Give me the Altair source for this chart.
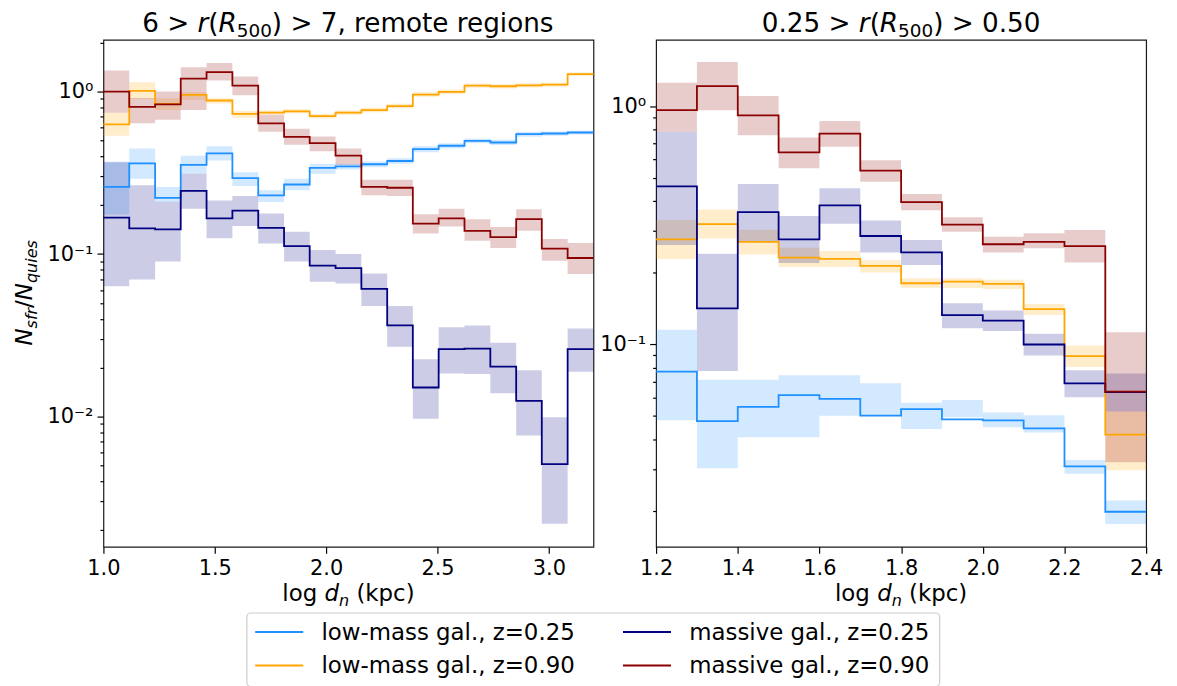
import altair as alt
import pandas as pd

FONT = "DejaVu Sans"
SERIES = ["low-mass gal., z=0.25", "massive gal., z=0.25",
          "low-mass gal., z=0.90", "massive gal., z=0.90"]
COLORS = ["#1e90ff", "#000080", "#ffa500", "#8b0000"]
DRAW_ORDER = [0, 2, 1, 3]

# ---------------- left panel: 6 > r(R500) > 7 ----------------
L_edges = [1.0, 1.116, 1.232, 1.347, 1.463, 1.579, 1.695, 1.811, 1.926, 2.042,
           2.158, 2.274, 2.389, 2.505, 2.621, 2.737, 2.853, 2.968, 3.084, 3.2]
L_low25 = [0.259, 0.362, 0.222, 0.354, 0.417, 0.293, 0.230, 0.268, 0.339, 0.347,
           0.357, 0.374, 0.443, 0.464, 0.498, 0.486, 0.547, 0.552, 0.560]
L_low25_hi = [0.37, 0.447, 0.259, 0.403, 0.46, 0.319, 0.247, 0.291, 0.359, 0.359,
              0.371, 0.389, 0.46, 0.48, 0.514, 0.505, 0.565, 0.568, 0.575]
L_low25_lo = [0.175, 0.291, 0.209, 0.312, 0.376, 0.262, 0.209, 0.247, 0.312, 0.331,
              0.342, 0.359, 0.423, 0.447, 0.48, 0.469, 0.527, 0.534, 0.544]
L_low90 = [0.629, 1.01, 0.841, 0.954, 0.881, 0.728, 0.741, 0.755, 0.707, 0.741,
           0.769, 0.814, 0.959, 0.995, 1.088, 1.078, 1.093, 1.103, 1.28]
L_low90_hi = [0.74, 1.14, 0.91, 0.99, 0.91, 0.76, 0.765, 0.78, 0.73, 0.765,
              0.795, 0.84, 0.99, 1.025, 1.12, 1.11, 1.125, 1.135, 1.31]
L_low90_lo = [0.534, 0.90, 0.77, 0.89, 0.845, 0.69, 0.72, 0.735, 0.685, 0.72,
              0.745, 0.79, 0.93, 0.965, 1.055, 1.045, 1.06, 1.07, 1.245]
L_mass25 = [0.1675, 0.144, 0.142, 0.245, 0.166, 0.185, 0.145, 0.112, 0.085, 0.082,
            0.061, 0.0364, 0.0151, 0.026, 0.0262, 0.0203, 0.0125, 0.0051, 0.026]
L_mass25_hi = [0.367, 0.265, 0.21, 0.312, 0.214, 0.228, 0.178, 0.137, 0.106, 0.1,
               0.076, 0.048, 0.0225, 0.0354, 0.0364, 0.0285, 0.0193, 0.0099, 0.0348]
L_mass25_lo = [0.0635, 0.0697, 0.090, 0.19, 0.125, 0.149, 0.116, 0.090, 0.0675, 0.066,
               0.048, 0.0269, 0.0097, 0.0184, 0.0183, 0.0139, 0.00766, 0.00219, 0.0189]
L_mass90 = [1.0, 0.806, 0.833, 1.2, 1.318, 1.088, 0.638, 0.527, 0.482, 0.403,
            0.259, 0.256, 0.154, 0.166, 0.139, 0.127, 0.164, 0.108, 0.0946]
L_mass90_hi = [1.35, 0.914, 1.0, 1.41, 1.50, 1.24, 0.72, 0.59, 0.53, 0.447,
               0.287, 0.287, 0.176, 0.19, 0.164, 0.147, 0.189, 0.124, 0.117]
L_mass90_lo = [0.741, 0.638, 0.67, 0.77, 1.17, 0.95, 0.565, 0.47, 0.43, 0.354,
               0.23, 0.228, 0.134, 0.148, 0.121, 0.109, 0.139, 0.091, 0.0755]

# ---------------- right panel: 0.25 > r(R500) > 0.50 ----------------
R_edges = [1.2, 1.3, 1.4, 1.5, 1.6, 1.7, 1.8, 1.9, 2.0, 2.1, 2.2, 2.3, 2.4]
R_low25 = [0.0769, 0.0476, 0.0547, 0.0612, 0.0591, 0.0502, 0.0535, 0.0484, 0.048, 0.0444, 0.0307, 0.0198]
R_low25_hi = [0.1155, 0.0711, 0.0711, 0.0742, 0.0742, 0.0687, 0.0569, 0.0585, 0.0518, 0.0504, 0.0327, 0.0221]
R_low25_lo = [0.048, 0.0302, 0.0407, 0.0407, 0.0502, 0.0503, 0.0441, 0.0494, 0.0449, 0.0427, 0.0286, 0.0176]
R_low90 = [0.277, 0.321, 0.270, 0.232, 0.229, 0.214, 0.181, 0.184, 0.180, 0.141, 0.0894, 0.0418]
R_low90_hi = [0.333, 0.37, 0.304, 0.255, 0.247, 0.226, 0.19, 0.19, 0.187, 0.148, 0.099, 0.0523]
R_low90_lo = [0.229, 0.279, 0.239, 0.212, 0.212, 0.201, 0.173, 0.173, 0.171, 0.133, 0.0804, 0.0296]
R_mass25 = [0.462, 0.142, 0.36, 0.277, 0.385, 0.286, 0.244, 0.133, 0.126, 0.1, 0.0687, 0.063]
R_mass25_hi = [0.784, 0.241, 0.473, 0.347, 0.454, 0.332, 0.275, 0.149, 0.139, 0.111, 0.078, 0.0756]
R_mass25_lo = [0.262, 0.0774, 0.27, 0.22, 0.322, 0.244, 0.216, 0.117, 0.114, 0.090, 0.060, 0.0523]
R_mass90 = [0.968, 1.22, 0.92, 0.643, 0.771, 0.539, 0.397, 0.319, 0.264, 0.270, 0.259, 0.0634]
R_mass90_hi = [1.26, 1.54, 1.108, 0.742, 0.871, 0.595, 0.429, 0.343, 0.284, 0.294, 0.303, 0.1126]
R_mass90_lo = [0.784, 0.967, 0.759, 0.551, 0.678, 0.484, 0.367, 0.298, 0.244, 0.254, 0.221, 0.032]

# axis ticks
L_xticks = [1.0, 1.5, 2.0, 2.5, 3.0]
R_xticks = [1.2, 1.4, 1.6, 1.8, 2.0, 2.2, 2.4]
L_ydomain = [0.00158, 2.08]
R_ydomain = [0.0141, 1.91]
Y_major = [0.01, 0.1, 1.0]
L_yticks = [0.002, 0.003, 0.004, 0.005, 0.006, 0.007, 0.008, 0.009, 0.01,
            0.02, 0.03, 0.04, 0.05, 0.06, 0.07, 0.08, 0.09, 0.1,
            0.2, 0.3, 0.4, 0.5, 0.6, 0.7, 0.8, 0.9, 1.0, 2.0]
R_yticks = [0.02, 0.03, 0.04, 0.05, 0.06, 0.07, 0.08, 0.09, 0.1,
            0.2, 0.3, 0.4, 0.5, 0.6, 0.7, 0.8, 0.9, 1.0]

L_title = [("6 > ", False, False), ("r", True, False), ("(", False, False),
           ("R", True, False), ("500", False, True), (") > 7, remote regions", False, False)]
R_title = [("0.25 > ", False, False), ("r", True, False), ("(", False, False),
           ("R", True, False), ("500", False, True), (") > 0.50", False, False)]
X_title = [("log ", False, False), ("d", True, False), ("n", True, True), (" (kpc)", False, False)]
Y_title = [("N", True, False), ("sfr", True, True), ("/", False, False), ("N", True, False),
           ("quies", True, True)]

W = 493
H = 510

ADV = {' ': .318, '(': .390, ')': .390, '>': .838, ',': .318, '.': .318, '/': .337,
       'a': .613, 'c': .550, 'd': .635, 'e': .615, 'f': .352, 'g': .635, 'i': .278,
       'k': .579, 'l': .278, 'm': .974, 'n': .634, 'o': .612, 'p': .635, 'q': .635,
       'r': .411, 's': .521, 't': .392, 'u': .634, 'v': .592, 'z': .525, 'N': .748,
       'R': .695}


def adv(s):
    return sum(ADV.get(ch, 0.636) for ch in s)


ONE = pd.DataFrame({"k": [0]})


def rich_text(pieces, size, anchor_x, anchor_y, angle=0, subshift=0.22):
    widths = [adv(t) * (size * 0.7 if sub else size) for t, _, sub in pieces]
    total = sum(widths)
    layers = []
    pos = -total / 2
    for (t, ital, sub), w in zip(pieces, widths):
        fs = size * 0.7 if sub else size
        shift = size * subshift if sub else 0
        lead = (len(t) - len(t.lstrip(" "))) * ADV[" "] * fs
        if angle == 0:
            px, py = anchor_x + pos + lead, anchor_y + shift
        else:
            px, py = anchor_x + shift, anchor_y - pos - lead
        layers.append(
            alt.Chart(ONE).mark_text(
                text=t.strip(" "), font=FONT, fontSize=fs,
                fontStyle="italic" if ital else "normal",
                align="left", baseline="alphabetic", angle=angle, color="black"
            ).encode(x=alt.value(px), y=alt.value(py))
        )
        pos += w
    return layers


def legend_layers():
    # legend box below the panels (matplotlib-style: 2 columns, framed)
    box_x, box_y, box_w, box_h = 144.3, 576.6, 697, 74
    col_x = [152.7, 522.7]
    row_y = [595.6, 629.3]
    sym_len, gap = 48.3, 18.3
    layers = [alt.Chart(ONE).mark_rect(
        fill="white", fillOpacity=0.8, stroke="#cccccc", strokeWidth=1.2, cornerRadius=4
    ).encode(x=alt.value(box_x), x2=alt.value(box_x + box_w),
             y=alt.value(box_y), y2=alt.value(box_y + box_h))]
    for k, (name, color) in enumerate(zip(SERIES, COLORS)):
        cx = col_x[k % 2]
        ry = row_y[k // 2]
        layers.append(alt.Chart(ONE).mark_rule(color=color, strokeWidth=2).encode(
            x=alt.value(cx), x2=alt.value(cx + sym_len), y=alt.value(ry)))
        layers.append(alt.Chart(ONE).mark_text(
            text=name, font=FONT, fontSize=23, align="left", baseline="middle",
            color="black").encode(x=alt.value(cx + sym_len + gap), y=alt.value(ry + 1)))
    return layers


def table(edges, series_list):
    rows = []
    for idx in DRAW_ORDER:
        vals, lo, hi = series_list[idx]
        n = len(vals)
        for i in range(n + 1):
            j = min(i, n - 1)
            rows.append({"series": SERIES[idx], "band": SERIES[idx],
                         "x": edges[i], "y": vals[j], "lo": lo[j], "hi": hi[j]})
    return pd.DataFrame(rows)


def panel(df, xdom, xticks, ydom, yticks, title_pieces, first):
    xenc = alt.X("x:Q", scale=alt.Scale(domain=xdom, nice=False, zero=False),
                 axis=alt.Axis(values=xticks, format=".1f", title=None, labelFlush=False,
                               tickSize=6.5, labelPadding=4, labelFontSize=21,
                               labelFont=FONT))
    major_test = "indexof(%s, datum.value) >= 0" % str(Y_major)
    label_expr = ("datum.value == 1 ? '10\u2070' : datum.value == 0.1 ? '10\u207b\u00b9' : "
                  "datum.value == 0.01 ? '10\u207b\u00b2' : ''")
    yaxis = alt.Axis(values=yticks, labelExpr=label_expr, title=None, labelOverlap=False,
                     tickSize={"condition": {"test": major_test, "value": 6.5}, "value": 3.5},
                     labelPadding=4, labelFontSize=21, labelFont=FONT)
    yscale = alt.Scale(type="log", domain=ydom, nice=False, zero=False)
    band = alt.Chart(df).mark_area(interpolate="step-after", fillOpacity=0.2).encode(
        x=xenc,
        y=alt.Y("lo:Q", scale=yscale, axis=yaxis),
        y2="hi:Q",
        fill=alt.Fill("band:N", scale=alt.Scale(domain=SERIES, range=COLORS), legend=None),
    )
    line = alt.Chart(df).mark_line(interpolate="step-after", strokeWidth=1.8).encode(
        x=xenc,
        y=alt.Y("y:Q", scale=yscale, axis=yaxis),
        stroke=alt.Stroke("series:N", scale=alt.Scale(domain=SERIES, range=COLORS), legend=None),
    )
    texts = rich_text(title_pieces, 26.4, W / 2, -8, subshift=0.18)
    texts += rich_text(X_title, 23, W / 2, H + 54.5)
    if first:
        texts += rich_text(Y_title, 23, -72.3, 254.5, angle=270)
        texts += legend_layers()
    return alt.layer(band, line, *texts).properties(width=W, height=H)


left_df = table(L_edges, [(L_low25, L_low25_lo, L_low25_hi), (L_mass25, L_mass25_lo, L_mass25_hi),
                          (L_low90, L_low90_lo, L_low90_hi), (L_mass90, L_mass90_lo, L_mass90_hi)])
right_df = table(R_edges, [(R_low25, R_low25_lo, R_low25_hi), (R_mass25, R_mass25_lo, R_mass25_hi),
                           (R_low90, R_low90_lo, R_low90_hi), (R_mass90, R_mass90_lo, R_mass90_hi)])

left = panel(left_df, [1.0, 3.2], L_xticks, L_ydomain, L_yticks, L_title, True)
right = panel(right_df, [1.2, 2.4], R_xticks, R_ydomain, R_yticks, R_title, False)

chart = alt.hconcat(left, right, spacing=63, bounds="flush").resolve_scale(
    stroke="shared", fill="shared"
).properties(
    padding={"left": 5, "top": 0, "right": 5, "bottom": 5}, background="white"
).configure_view(
    stroke="#1a1a1a", strokeWidth=1.2
).configure_axis(
    labelFont=FONT, labelFontSize=21, labelColor="black", tickColor="black",
    tickWidth=1.2, domain=False, grid=False
)

chart.save("out.html", embed_options={"renderer": "svg", "actions": False})
